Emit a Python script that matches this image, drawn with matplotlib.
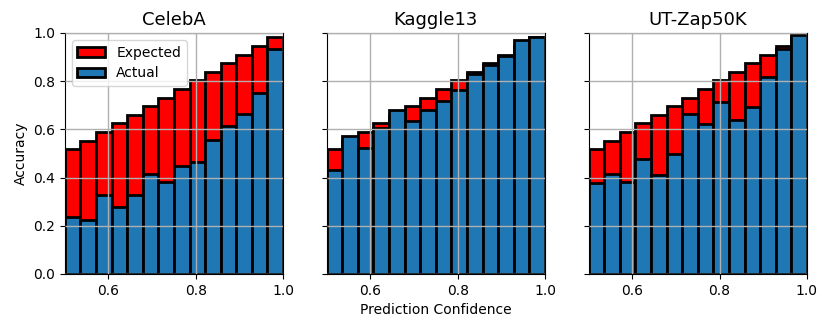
import matplotlib

matplotlib.use("Agg")
import matplotlib.pyplot as plt
import numpy as np

# 14 confidence bins over [0.5, 1.0]
N_BINS = 14
BIN_EDGES = np.linspace(0.5, 1.0, N_BINS + 1)
BIN_CENTERS = (BIN_EDGES[:-1] + BIN_EDGES[1:]) / 2

DATASETS = ["CelebA", "Kaggle13", "UT-Zap50K"]

celeba_acc = [0.235, 0.222, 0.328, 0.277, 0.328, 0.415, 0.380, 0.446,
              0.464, 0.557, 0.615, 0.665, 0.751, 0.935]
kaggle_acc = [0.432, 0.571, 0.522, 0.605, 0.681, 0.633, 0.681, 0.716,
              0.765, 0.830, 0.868, 0.906, 0.972, 0.983]
utzap_acc = [0.377, 0.415, 0.381, 0.476, 0.409, 0.499, 0.663, 0.622,
             0.715, 0.637, 0.693, 0.817, 0.934, 0.990]

ACCURACIES = [celeba_acc, kaggle_acc, utzap_acc]


def main() -> None:
    fig, axes = plt.subplots(1, 3, figsize=(8.31, 3.30), dpi=100, sharey=True)
    fig.subplots_adjust(left=0.078, right=0.971, top=0.9, bottom=0.17, wspace=0.2)
    width = BIN_EDGES[1] - BIN_EDGES[0]

    for ax, name, acc in zip(axes, DATASETS, ACCURACIES):
        ax.bar(BIN_CENTERS, BIN_CENTERS, width=width, color="red",
               edgecolor="black", linewidth=2, label="Expected", zorder=1)
        ax.bar(BIN_CENTERS, acc, width=width, color="#1f77b4",
               edgecolor="black", linewidth=2, label="Actual", zorder=2)
        ax.set_xlim(0.5, 1.0)
        ax.set_ylim(0.0, 1.0)
        ax.set_xticks([0.6, 0.8, 1.0])
        ax.set_yticks([0.0, 0.2, 0.4, 0.6, 0.8, 1.0])
        ax.grid(True, color="#b0b0b0", linewidth=1, zorder=3)
        ax.set_axisbelow(False)
        ax.set_title(name, fontsize=13)
        ax.tick_params(labelsize=10)

    axes[0].set_ylabel("Accuracy", fontsize=10)
    axes[1].set_xlabel("Prediction Confidence", fontsize=10)
    axes[0].legend(loc="upper left", fontsize=10)

    fig.savefig("out.png", dpi=100)


if __name__ == "__main__":
    main()
